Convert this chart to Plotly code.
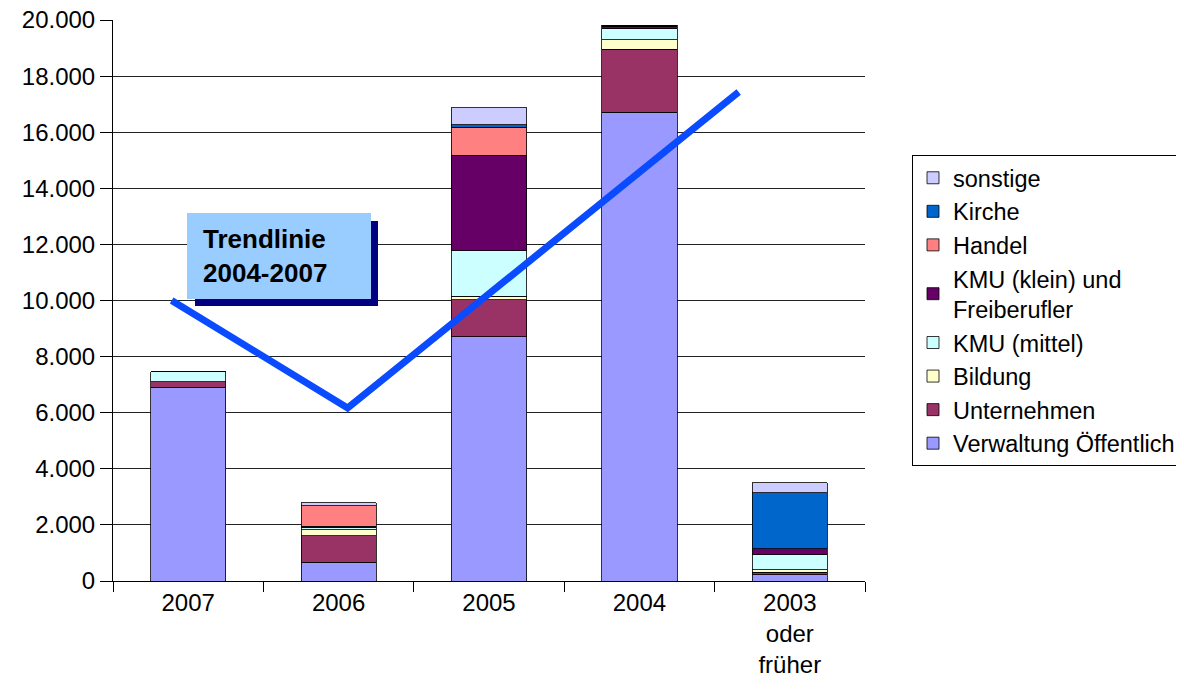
import plotly.graph_objects as go

categories = ["2007", "2006", "2005", "2004", "2003<br>oder<br>früher"]

verwaltung = [6900, 670, 8710, 16720, 220]
unternehmen = [200, 950, 1310, 2240, 100]
bildung = [0, 200, 140, 330, 80]
kmu_mittel = [360, 100, 1620, 390, 540]
kmu_klein = [0, 30, 3400, 100, 210]
handel = [0, 730, 990, 0, 0]
kirche = [0, 0, 90, 40, 1990]
sonstige = [0, 110, 620, 0, 370]

series = [
    ("Verwaltung Öffentlich", verwaltung, "#9999FF"),
    ("Unternehmen", unternehmen, "#993366"),
    ("Bildung", bildung, "#FFFFCC"),
    ("KMU (mittel)", kmu_mittel, "#CCFFFF"),
    ("KMU (klein) und<br>Freiberufler", kmu_klein, "#660066"),
    ("Handel", handel, "#FF8080"),
    ("Kirche", kirche, "#0066CC"),
    ("sonstige", sonstige, "#CCCCFF"),
]

# trend line (drawn shape), x as category index positions
trend_x = [-0.11, 1.06, 3.66]
trend_y = [10000, 6170, 17430]

OFF = 8  # page body margin
W, H = 1184 - OFF, 689 - OFF
L, R, T, B = 113, 865, 20, 581  # target plot area in window pixels
pw, ph = R - L, B - T


def px(x):
    return (x - L) / pw


def py(y):
    return (B - y) / ph


fig = go.Figure()
for name, vals, col in series:
    fig.add_trace(go.Bar(
        x=categories, y=vals, name=name,
        marker=dict(color=col, line=dict(color="black", width=0.8)),
    ))

path = "M {} {} L {} {} L {} {}".format(trend_x[0], trend_y[0], trend_x[1], trend_y[1], trend_x[2], trend_y[2])
shapes = [
    dict(type="path", path=path, xref="x", yref="y",
         line=dict(color="#0A4BFF", width=7), layer="above"),
    dict(type="rect", xref="paper", yref="paper",
         x0=px(195), x1=px(378), y0=py(306), y1=py(221),
         fillcolor="#000080", line=dict(width=0), layer="above"),
    dict(type="rect", xref="paper", yref="paper",
         x0=px(187), x1=px(371), y0=py(299), y1=py(213),
         fillcolor="#99CCFF", line=dict(width=0), layer="above"),
]

fig.update_layout(
    width=W, height=H,
    margin=dict(l=L - OFF, r=W - (R - OFF), t=T - OFF, b=H - (B - OFF), autoexpand=False),
    barmode="stack", bargap=0.5,
    paper_bgcolor="white", plot_bgcolor="white",
    separators=",.",
    font=dict(family="Liberation Sans, Arial, sans-serif", size=24, color="black"),
    shapes=shapes,
    showlegend=True,
    legend=dict(
        traceorder="reversed",
        x=(912 - OFF) / W, xref="container", xanchor="left",
        y=1 - (155 - OFF) / H, yref="container", yanchor="top",
        bordercolor="black", borderwidth=1, bgcolor="white",
        font=dict(size=23.5), itemwidth=30, tracegroupgap=0,
    ),
    annotations=[dict(
        xref="paper", yref="paper",
        x=px(201), y=py(256),
        xanchor="left", yanchor="middle", align="left",
        text="<b>Trendlinie<br>2004-2007</b>", showarrow=False,
        font=dict(size=26, color="black"),
    )],
)
fig.update_yaxes(
    range=[0, 20000], dtick=2000, tickformat=",d",
    showgrid=True, gridcolor="#222", gridwidth=1,
    showline=True, linecolor="black", linewidth=1,
    ticks="outside", ticklen=12, tickcolor="black",
    zeroline=False, ticklabeloverflow="allow", automargin=False,
)
fig.update_xaxes(
    showline=True, linecolor="black", linewidth=1,
    ticks="outside", tickson="boundaries", ticklen=10, tickcolor="black",
    showgrid=False, ticklabeloverflow="allow", automargin=False,
)

fig.write_html("out.html")
